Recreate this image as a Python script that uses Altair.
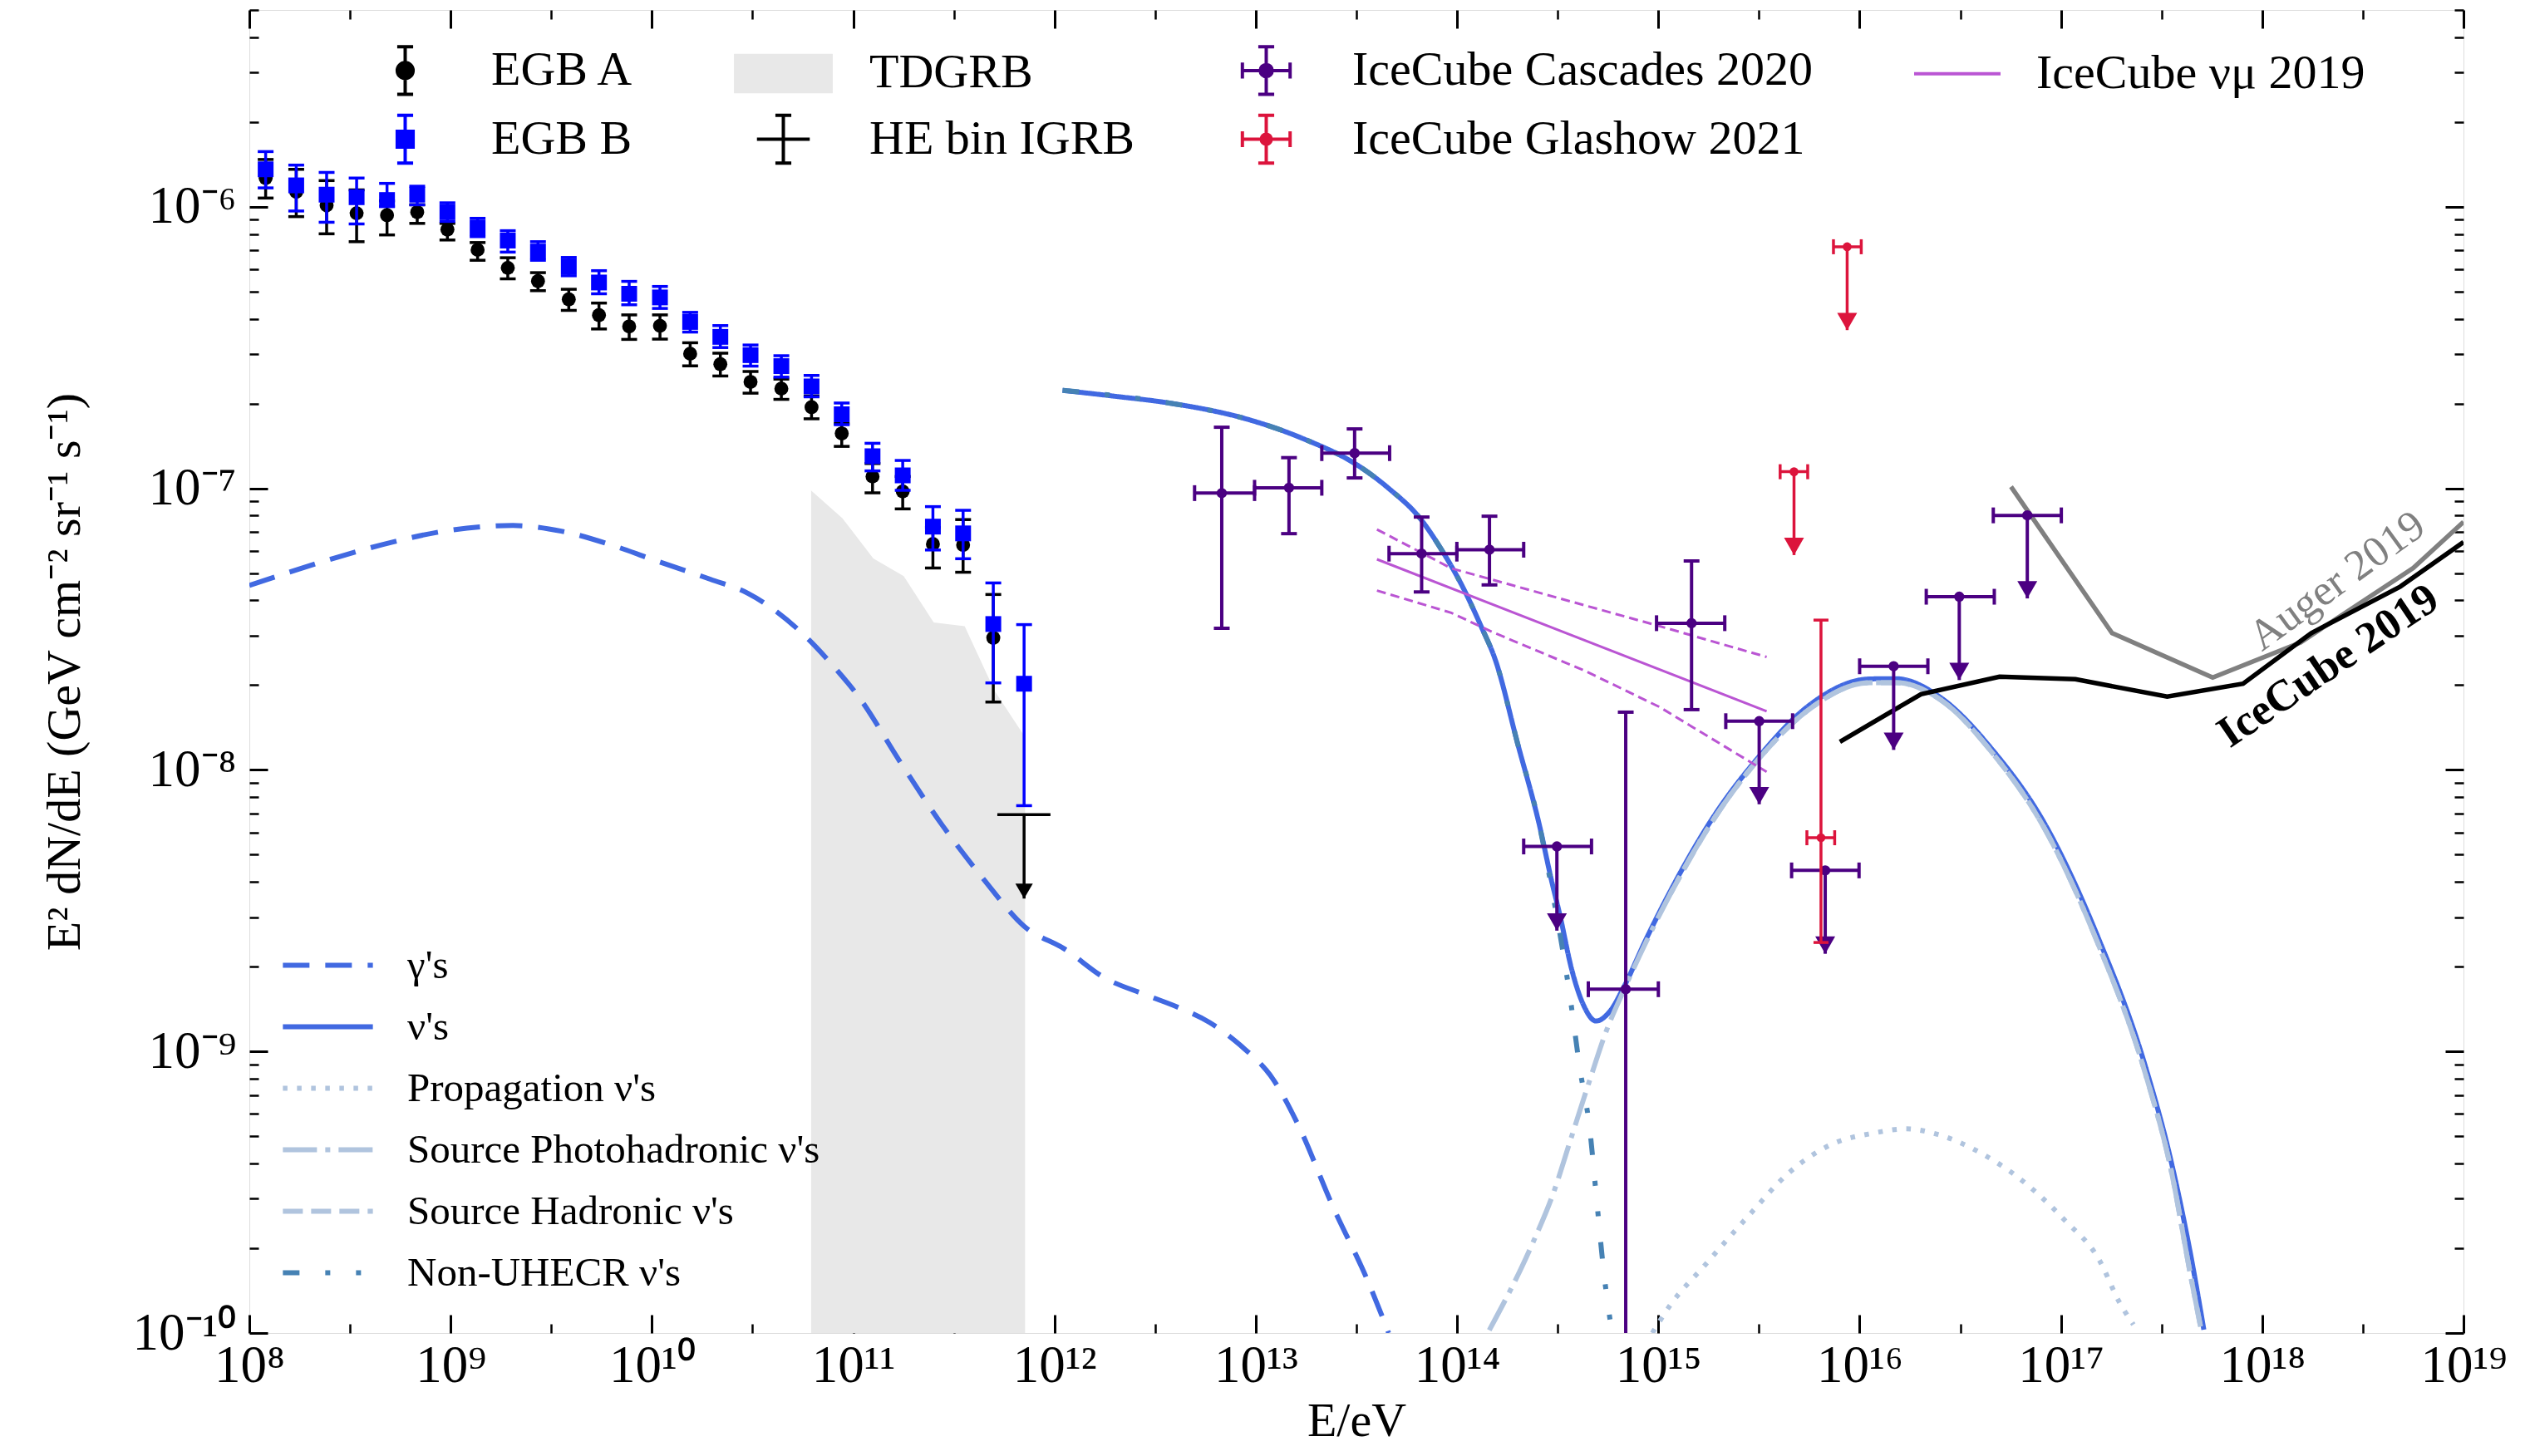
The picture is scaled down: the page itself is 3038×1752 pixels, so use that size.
import json
import pandas as pd
import altair as alt

FONT = "Liberation Serif"

# ---------------- tick labels ----------------
x_tick_labels = ["10⁸", "10⁹", "10¹⁰", "10¹¹", "10¹²", "10¹³", "10¹⁴",
                 "10¹⁵", "10¹⁶", "10¹⁷", "10¹⁸", "10¹⁹"]
y_tick_labels = ["10⁻¹⁰", "10⁻⁹", "10⁻⁸", "10⁻⁷", "10⁻⁶"]

# ---------------- data (log10 values) ----------------
# Fermi EGB bins
egb_logE = [8.081, 8.233, 8.384, 8.533, 8.684, 8.834, 8.984, 9.134, 9.284, 9.434,
            9.587, 9.737, 9.887, 10.040, 10.190, 10.340, 10.490, 10.643, 10.793, 10.943,
            11.096, 11.246, 11.396, 11.546, 11.696, 11.849]
egbA_logF = [-5.898, -5.947, -5.995, -6.023, -6.030, -6.019, -6.081, -6.153, -6.217, -6.264,
             -6.329, -6.385, -6.425, -6.423, -6.522, -6.559, -6.622, -6.646, -6.712, -6.805,
             -6.958, -7.011, -7.198, -7.201, -7.531]
egbA_logF_hi = [-5.832, -5.867, -5.907, -5.940, -5.979, -5.993, -6.059, -6.127, -6.181, -6.234,
                -6.293, -6.342, -6.384, -6.384, -6.483, -6.520, -6.585, -6.612, -6.672, -6.770,
                -6.912, -6.958, -7.139, -7.111, -7.377]
egbA_logF_lo = [-5.969, -6.035, -6.096, -6.124, -6.100, -6.059, -6.118, -6.190, -6.256, -6.298,
                -6.368, -6.434, -6.471, -6.470, -6.565, -6.601, -6.662, -6.684, -6.753, -6.851,
                -7.016, -7.073, -7.283, -7.298, -7.759]
egbB_logF = [-5.867, -5.924, -5.957, -5.966, -5.976, -5.957, -6.019, -6.074, -6.120, -6.159,
             -6.212, -6.269, -6.309, -6.322, -6.409, -6.462, -6.527, -6.566, -6.638, -6.737,
             -6.886, -6.954, -7.136, -7.160, -7.482, -7.694]
egbB_logF_hi = [-5.804, -5.852, -5.878, -5.898, -5.917, -5.927, -5.986, -6.041, -6.085, -6.124,
                -6.180, -6.227, -6.265, -6.283, -6.375, -6.422, -6.491, -6.529, -6.599, -6.697,
                -6.840, -6.901, -7.065, -7.078, -7.336, -7.484]
egbB_logF_lo = [-5.933, -6.015, -6.055, -6.061, -5.999, -5.993, -6.052, -6.106, -6.161, -6.190,
                -6.245, -6.309, -6.348, -6.361, -6.445, -6.500, -6.566, -6.605, -6.675, -6.774,
                -6.938, -7.007, -7.219, -7.250, -7.691, -8.127]

# HE bin IGRB upper limit
he_logE = [11.849]
he_logE_lo = [11.716]
he_logE_hi = [11.980]
he_logF = [-8.159]
he_logF_tip = [-8.457]

# TDGRB band (upper edge)
tdgrb_logE = [10.791, 10.946, 11.100, 11.251, 11.400, 11.554, 11.703, 11.841, 11.854]
tdgrb_logF = [-7.008, -7.106, -7.249, -7.312, -7.476, -7.490, -7.720, -7.870, -7.875]

# IceCube cascades 2020 (for upper limits: hi = point, lo = arrow tip)
casc_logE = [12.831, 13.165, 13.491, 13.824, 14.161, 14.496, 14.838, 15.165, 15.501, 15.829,
             16.169, 16.495, 16.833]
casc_logE_lo = [12.696, 12.994, 13.328, 13.662, 13.999, 14.331, 14.652, 14.991, 15.335, 15.662,
                16.000, 16.331, 16.664]
casc_logE_hi = [12.994, 13.328, 13.665, 13.999, 14.331, 14.668, 15.000, 15.330, 15.667, 15.997,
                16.339, 16.669, 17.002]
casc_logF = [-7.017, -6.998, -6.875, -7.232, -7.218, -8.272, -8.779, -7.479, -7.827, -8.357,
             -7.632, -7.385, -7.096]
casc_logF_hi = [-6.783, -6.891, -6.789, -7.102, -7.099, -8.272, -7.795, -7.258, -7.827, -8.357,
                -7.632, -7.385, -7.096]
casc_logF_lo = [-7.497, -7.161, -6.963, -7.368, -7.343, -8.571, -11.0, -7.786, -8.122, -8.653,
                -7.929, -7.681, -7.391]
casc_upper_limit = [False, False, False, False, False, True, False, False, True, True,
                    True, True, True]

# IceCube Glashow 2021
glash_logE = [15.674, 15.808, 15.938]
glash_logE_lo = [15.605, 15.738, 15.870]
glash_logE_hi = [15.742, 15.876, 16.008]
glash_logF = [-6.941, -8.241, -6.142]
glash_logF_hi = [-6.941, -7.468, -6.142]
glash_logF_lo = [-7.237, -8.613, -6.438]
glash_upper_limit = [True, False, True]

# IceCube numu 2019 (best fit and band)
numu_logE = [13.602, 15.538]
numu_logF = [-7.252, -7.792]
numu_up_logE = [13.602, 13.971, 14.193, 15.004, 15.538]
numu_up_logF = [-7.146, -7.284, -7.328, -7.489, -7.599]
numu_dn_logE = [13.602, 13.971, 14.174, 14.635, 15.004, 15.538]
numu_dn_logF = [-7.363, -7.442, -7.510, -7.648, -7.776, -8.007]

# sensitivity curves
auger_logE = [16.752, 17.254, 17.754, 18.191, 18.750, 19.000]
auger_logF = [-6.994, -7.514, -7.672, -7.547, -7.283, -7.119]
ic19_logE = [15.902, 16.305, 16.695, 17.072, 17.528, 17.905, 18.244, 18.686, 19.000]
ic19_logF = [-7.900, -7.731, -7.669, -7.678, -7.740, -7.694, -7.514, -7.349, -7.191]

# model curves
gamma_logE = [8.00, 8.44, 8.71, 8.97, 9.31, 9.55, 9.81, 10.02, 10.29, 10.48, 10.75, 10.89,
              11.03, 11.23, 11.44, 11.65, 11.85, 12.05, 12.25, 12.45, 12.63, 12.77, 12.92,
              13.09, 13.21, 13.38, 13.56, 13.66]
gamma_logF = [-7.345, -7.244, -7.191, -7.152, -7.132, -7.152, -7.204, -7.257, -7.323, -7.374,
              -7.517, -7.622, -7.743, -7.968, -8.194, -8.390, -8.556, -8.636, -8.739, -8.798,
              -8.848, -8.897, -8.976, -9.103, -9.260, -9.546, -9.821, -10.0]
nu_logE = [12.04, 12.30, 12.57, 12.97, 13.23, 13.51, 13.66, 13.82, 13.92, 14.03, 14.12, 14.19,
           14.30, 14.41, 14.47, 14.51, 14.57, 14.63, 14.69, 14.76, 14.83, 14.94, 15.06, 15.28,
           15.50, 15.74, 16.05, 16.18, 16.40, 16.66, 16.92, 17.18, 17.42, 17.55, 17.65, 17.71]
nu_logF = [-6.652, -6.673, -6.697, -6.757, -6.822, -6.920, -7.000, -7.110, -7.215, -7.353,
           -7.491, -7.609, -7.904, -8.199, -8.395, -8.513, -8.710, -8.838, -8.892, -8.857,
           -8.769, -8.600, -8.430, -8.160, -7.953, -7.776, -7.677, -7.676, -7.742, -7.929,
           -8.192, -8.587, -9.054, -9.398, -9.743, -9.988]
prop_logE = [14.97, 15.06, 15.23, 15.44, 15.65, 15.86, 16.07, 16.23, 16.39, 16.60, 16.81,
             17.02, 17.19, 17.29, 17.36]
prop_logF = [-10.0, -9.90, -9.76, -9.59, -9.43, -9.33, -9.29, -9.275, -9.295, -9.36, -9.46,
             -9.60, -9.74, -9.89, -9.97]
photo_logE = [14.16, 14.37, 14.48, 14.57, 14.66, 14.74, 14.83, 14.94, 15.06, 15.28, 15.50,
              15.74, 16.05, 16.18, 16.40, 16.66, 16.92, 17.18, 17.42, 17.55, 17.64, 17.70]
photo_logF = [-9.99, -9.69, -9.50, -9.30, -9.10, -8.93, -8.78, -8.61, -8.44, -8.17, -7.96,
              -7.79, -7.69, -7.69, -7.75, -7.94, -8.21, -8.61, -9.08, -9.43, -9.78, -10.0]
hadr_logE = [15.06, 15.28, 15.50, 15.74, 16.05, 16.18, 16.40, 16.66, 16.92, 17.18, 17.42,
             17.55, 17.64, 17.70]
hadr_logF = [-8.44, -8.17, -7.96, -7.79, -7.69, -7.69, -7.75, -7.94, -8.21, -8.61, -9.08,
             -9.43, -9.78, -10.0]
nonuhe_logE = [12.04, 12.57, 12.97, 13.23, 13.51, 13.66, 13.82, 13.92, 14.03, 14.12, 14.19,
               14.30, 14.41, 14.47, 14.52, 14.56, 14.61, 14.66, 14.69, 14.73, 14.77]
nonuhe_logF = [-6.652, -6.697, -6.757, -6.822, -6.920, -7.000, -7.110, -7.215, -7.353, -7.491,
               -7.609, -7.904, -8.20, -8.42, -8.62, -8.80, -9.06, -9.28, -9.50, -9.79, -10.0]

model_names = ["γ's", "ν's", "Propagation ν's", "Source Photohadronic ν's",
               "Source Hadronic ν's", "Non-UHECR ν's"]
model_colors = ["#4169E1", "#4169E1", "#B0C4DE", "#B0C4DE", "#B0C4DE", "#4682B4"]
model_dashes = [[32, 19], [1, 0], [5.5, 11.5], [41, 10, 6, 10], [24, 10], [20, 31, 6, 31, 6, 31]]

# annotations
annot_text = ["Auger 2019", "IceCube 2019"]
annot_logE = [18.372, 18.328]
annot_logF = [-7.329, -7.631]

# top legend
legend_entries = ["EGB A", "TDGRB", "IceCube Cascades 2020", "IceCube νμ 2019",
                  "EGB B", "HE bin IGRB", "IceCube Glashow 2021"]
legend_colors = ["black", "#E8E8E8", "#4B0082", "#BA55D3", "blue", "black", "#DC143C"]
legend_shapes = [
    "M0,-0.66V0.66M-0.22,-0.66H0.22M-0.22,0.66H0.22M-0.22,0A0.22,0.22,0,1,0,0.22,0A0.22,0.22,0,1,0,-0.22,0Z",
    "M-1.32,-0.5H1.32V0.5H-1.32Z",
    "M-0.66,0H0.66M0,-0.66V0.66M-0.22,-0.66H0.22M-0.22,0.66H0.22M-0.66,-0.22V0.22M0.66,-0.22V0.22M-0.166,0A0.166,0.166,0,1,0,0.166,0A0.166,0.166,0,1,0,-0.166,0Z",
    "M-1.0,0H1.39",
    "M0,-0.66V0.66M-0.22,-0.66H0.22M-0.22,0.66H0.22M-0.22,-0.22H0.22V0.22H-0.22Z",
    "M-0.73,0H0.73M0,-0.66V0.66M-0.22,-0.66H0.22M-0.22,0.66H0.22",
    "M-0.66,0H0.66M0,-0.66V0.66M-0.22,-0.66H0.22M-0.22,0.66H0.22M-0.66,-0.22V0.22M0.66,-0.22V0.22M-0.138,0A0.138,0.138,0,1,0,0.138,0A0.138,0.138,0,1,0,-0.138,0Z",
]


def p10(v):
    return [10.0 ** a for a in v]


# ---------------- scales / axes ----------------
x_scale = alt.Scale(type="log", domain=[1e8, 1e19], nice=False)
y_scale = alt.Scale(type="log", domain=[1e-10, 5e-6], nice=False)

x_major = [10.0 ** k for k in range(8, 20)]
x_minor = [10.0 ** (k + 0.5) for k in range(8, 19)]
y_major = [10.0 ** k for k in range(-10, -5)]
y_minor = [m * 10.0 ** k for k in range(-10, -5) for m in range(2, 10) if m * 10.0 ** k < 5e-6]

x_label_expr = "%s[round(log(datum.value) / LN10) - 8]" % json.dumps(x_tick_labels, ensure_ascii=False)
y_label_expr = "%s[round(log(datum.value) / LN10) + 10]" % json.dumps(y_tick_labels, ensure_ascii=False)

common = dict(domain=False, grid=False, tickColor="black", labelColor="black",
              labelFont=FONT, titleFont=FONT, titleColor="black")

ax_x_bottom = alt.Axis(orient="bottom", values=x_major, offset=-22, tickSize=22, tickWidth=3,
                       labelExpr=x_label_expr, labelFontSize=63, labelPadding=8,
                       labelFlush=False, labelOverlap=False, title="E/eV", titleFontSize=58,
                       titleFontWeight="normal", titlePadding=6, **common)
ax_x_bottom_minor = alt.Axis(orient="bottom", values=x_minor, offset=-11, tickSize=11, tickWidth=2.5,
                             labels=False, title=None, **common)
ax_x_top = alt.Axis(orient="top", values=x_major, offset=-22, tickSize=22, tickWidth=3,
                    labels=False, title=None, **common)
ax_x_top_minor = alt.Axis(orient="top", values=x_minor, offset=-11, tickSize=11, tickWidth=2.5,
                          labels=False, title=None, **common)
ax_y_left = alt.Axis(orient="left", values=y_major, offset=-22, tickSize=22, tickWidth=3,
                     labelExpr=y_label_expr, labelFontSize=63, labelPadding=16,
                     labelFlush=False, labelOverlap=False,
                     title="E² dN/dE (GeV cm⁻² sr⁻¹ s⁻¹)", titleFontSize=58,
                     titleFontWeight="normal", titlePadding=52, **common)
ax_y_left_minor = alt.Axis(orient="left", values=y_minor, offset=-11, tickSize=11, tickWidth=2.5,
                           labels=False, title=None, **common)
ax_y_right = alt.Axis(orient="right", values=y_major, offset=-22, tickSize=22, tickWidth=3,
                      labels=False, title=None, **common)
ax_y_right_minor = alt.Axis(orient="right", values=y_minor, offset=-11, tickSize=11, tickWidth=2.5,
                            labels=False, title=None, **common)


def X(field, axis=None):
    return alt.X(f"{field}:Q", scale=x_scale, axis=axis)


def Y(field, axis=None):
    return alt.Y(f"{field}:Q", scale=y_scale, axis=axis)


layers = []

# TDGRB band
tdgrb = pd.DataFrame({"E": p10(tdgrb_logE), "F": p10(tdgrb_logF)})
layers.append(alt.Chart(tdgrb).mark_area(color="#E8E8E8", clip=True).encode(
    x=X("E", ax_x_bottom), y=Y("F", ax_y_left), y2=alt.datum(1e-10)))

# model curves
model_frames = []
for name, le, lf in zip(model_names,
                        [gamma_logE, nu_logE, prop_logE, photo_logE, hadr_logE, nonuhe_logE],
                        [gamma_logF, nu_logF, prop_logF, photo_logF, hadr_logF, nonuhe_logF]):
    model_frames.append(pd.DataFrame({"model": name, "E": p10(le), "F": p10(lf)}))
models = pd.concat(model_frames, ignore_index=True)

bottom_legend = alt.Legend(title=None, orient="none", legendX=46, legendY=1101,
                           direction="vertical", symbolType="M-1.19,0H1.19", symbolSize=8281,
                           symbolStrokeWidth=6, labelFont=FONT, labelFontSize=49,
                           labelColor="black", labelOffset=47, rowPadding=0,
                           labelLimit=2000, padding=0)
layers.append(alt.Chart(models).mark_line(strokeWidth=6, clip=True, interpolate="monotone").encode(
    x=X("E", ax_x_bottom_minor), y=Y("F", ax_y_left_minor),
    color=alt.Color("model:N", scale=alt.Scale(domain=model_names, range=model_colors),
                    legend=bottom_legend),
    strokeDash=alt.StrokeDash("model:N", scale=alt.Scale(domain=model_names, range=model_dashes),
                              legend=bottom_legend),
))

# IceCube numu 2019 band
numu_c = pd.DataFrame({"E": p10(numu_logE), "F": p10(numu_logF)})
numu_u = pd.DataFrame({"E": p10(numu_up_logE), "F": p10(numu_up_logF)})
numu_d = pd.DataFrame({"E": p10(numu_dn_logE), "F": p10(numu_dn_logF)})
layers.append(alt.Chart(numu_c).mark_line(color="#BA55D3", strokeWidth=3, clip=True).encode(
    x=X("E", ax_x_top), y=Y("F", ax_y_right)))
for d in (numu_u, numu_d):
    layers.append(alt.Chart(d).mark_line(color="#BA55D3", strokeWidth=3, strokeDash=[11, 6],
                                         clip=True).encode(x=X("E"), y=Y("F")))

# Auger / IceCube 2019 sensitivities
auger = pd.DataFrame({"E": p10(auger_logE), "F": p10(auger_logF)})
ic19 = pd.DataFrame({"E": p10(ic19_logE), "F": p10(ic19_logF)})
layers.append(alt.Chart(auger).mark_line(color="#808080", strokeWidth=5.5, clip=True).encode(
    x=X("E", ax_x_top_minor), y=Y("F", ax_y_right_minor)))
layers.append(alt.Chart(ic19).mark_line(color="black", strokeWidth=5.5, clip=True).encode(
    x=X("E"), y=Y("F")))


# EGB points
def yerr_layers(df, color, width, cap):
    base = alt.Chart(df)
    return [
        base.mark_rule(color=color, strokeWidth=width, clip=True).encode(
            x=X("E"), y=Y("Flo"), y2=alt.Y2("Fhi")),
        base.mark_tick(color=color, orient="horizontal", size=cap, thickness=width,
                       opacity=1, clip=True).encode(x=X("E"), y=Y("Flo")),
        base.mark_tick(color=color, orient="horizontal", size=cap, thickness=width,
                       opacity=1, clip=True).encode(x=X("E"), y=Y("Fhi")),
    ]


egbA = pd.DataFrame({"E": p10(egb_logE[:len(egbA_logF)]), "F": p10(egbA_logF),
                     "Fhi": p10(egbA_logF_hi), "Flo": p10(egbA_logF_lo)})
egbB = pd.DataFrame({"E": p10(egb_logE), "F": p10(egbB_logF),
                     "Fhi": p10(egbB_logF_hi), "Flo": p10(egbB_logF_lo)})
layers += yerr_layers(egbA, "black", 3.5, 19)
layers.append(alt.Chart(egbA).mark_circle(color="black", size=283, opacity=1).encode(
    x=X("E"), y=Y("F")))
layers += yerr_layers(egbB, "blue", 3.5, 19)
layers.append(alt.Chart(egbB).mark_square(color="blue", size=361, opacity=1).encode(
    x=X("E"), y=Y("F")))

# HE bin IGRB
he = pd.DataFrame({"E": p10(he_logE), "Elo": p10(he_logE_lo), "Ehi": p10(he_logE_hi),
                   "F": p10(he_logF), "Ftip": p10(he_logF_tip)})
layers.append(alt.Chart(he).mark_rule(color="black", strokeWidth=3.5).encode(
    x=X("Elo"), x2=alt.X2("Ehi"), y=Y("F")))
layers.append(alt.Chart(he).mark_rule(color="black", strokeWidth=3.5).encode(
    x=X("E"), y=Y("F"), y2=alt.Y2("Ftip")))
layers.append(alt.Chart(he).mark_point(shape="triangle-down", filled=True, size=441, color="black",
                                       opacity=1, yOffset=-9).encode(x=X("E"), y=Y("Ftip")))


def point_layers(df, color, width, cap, dot, head):
    base = alt.Chart(df)
    meas = base.transform_filter("!datum.ul")
    lims = base.transform_filter("datum.ul")
    h = (head ** 0.5) / 2 * 0.866
    return [
        base.mark_rule(color=color, strokeWidth=width, clip=True).encode(
            x=X("Elo"), x2=alt.X2("Ehi"), y=Y("F")),
        base.mark_tick(color=color, orient="vertical", size=cap, thickness=width, opacity=1).encode(
            x=X("Elo"), y=Y("F")),
        base.mark_tick(color=color, orient="vertical", size=cap, thickness=width, opacity=1).encode(
            x=X("Ehi"), y=Y("F")),
        base.mark_rule(color=color, strokeWidth=width, clip=True).encode(
            x=X("E"), y=Y("Flo"), y2=alt.Y2("Fhi")),
        meas.mark_tick(color=color, orient="horizontal", size=cap, thickness=width, opacity=1,
                       clip=True).encode(x=X("E"), y=Y("Flo")),
        meas.mark_tick(color=color, orient="horizontal", size=cap, thickness=width, opacity=1,
                       clip=True).encode(x=X("E"), y=Y("Fhi")),
        lims.mark_point(shape="triangle-down", filled=True, size=head, color=color, opacity=1,
                        yOffset=-h).encode(x=X("E"), y=Y("Flo")),
        base.mark_circle(color=color, size=dot, opacity=1).encode(x=X("E"), y=Y("F")),
    ]


casc = pd.DataFrame({"E": p10(casc_logE), "Elo": p10(casc_logE_lo), "Ehi": p10(casc_logE_hi),
                     "F": p10(casc_logF), "Fhi": p10(casc_logF_hi), "Flo": p10(casc_logF_lo),
                     "ul": casc_upper_limit})
glash = pd.DataFrame({"E": p10(glash_logE), "Elo": p10(glash_logE_lo), "Ehi": p10(glash_logE_hi),
                      "F": p10(glash_logF), "Fhi": p10(glash_logF_hi), "Flo": p10(glash_logF_lo),
                      "ul": glash_upper_limit})
layers += point_layers(casc, "#4B0082", 4, 19, 154, 576)
layers += point_layers(glash, "#DC143C", 3.5, 18, 113, 576)

# annotations
ann = pd.DataFrame({"t": annot_text, "E": p10(annot_logE), "F": p10(annot_logF)})
layers.append(alt.Chart(ann).transform_filter("datum.t == 'Auger 2019'").mark_text(
    font=FONT, fontSize=52, color="#808080", angle=324, align="center", baseline="middle").encode(
    x=X("E"), y=Y("F"), text="t:N"))
layers.append(alt.Chart(ann).transform_filter("datum.t == 'IceCube 2019'").mark_text(
    font=FONT, fontSize=53, fontWeight="bold", color="black", angle=326, align="center",
    baseline="middle").encode(x=X("E"), y=Y("F"), text="t:N"))

# top legend (legend-only layer)
top_legend = alt.Legend(title=None, orient="none", legendX=142, legendY=27, columns=4,
                        direction="horizontal", symbolSize=7569, symbolStrokeWidth=4,
                        labelFont=FONT, labelFontSize=58, labelColor="black", labelOffset=58,
                        columnPadding=113, rowPadding=0, labelLimit=2000, padding=0)
leg = pd.DataFrame({"entry": legend_entries})
layers.append(alt.Chart(leg).transform_filter("false").mark_point(filled=True, opacity=1).encode(
    x=X("E"), y=Y("F"),
    fill=alt.Fill("entry:N", scale=alt.Scale(domain=legend_entries, range=legend_colors),
                  legend=top_legend),
    stroke=alt.Stroke("entry:N", scale=alt.Scale(domain=legend_entries, range=legend_colors),
                      legend=top_legend),
    shape=alt.Shape("entry:N", scale=alt.Scale(domain=legend_entries, range=legend_shapes),
                    legend=top_legend),
))

chart = alt.layer(*layers).resolve_axis(x="independent", y="independent").properties(
    width=2664, height=1592,
    padding={"left": 300, "top": 12, "right": 74, "bottom": 148},
    autosize=alt.AutoSizeParams(type="none"),
    background="white",
).configure_view(stroke="black", strokeWidth=3).configure(font=FONT)

chart.save("out.html", embed_options={"renderer": "svg", "actions": False})
